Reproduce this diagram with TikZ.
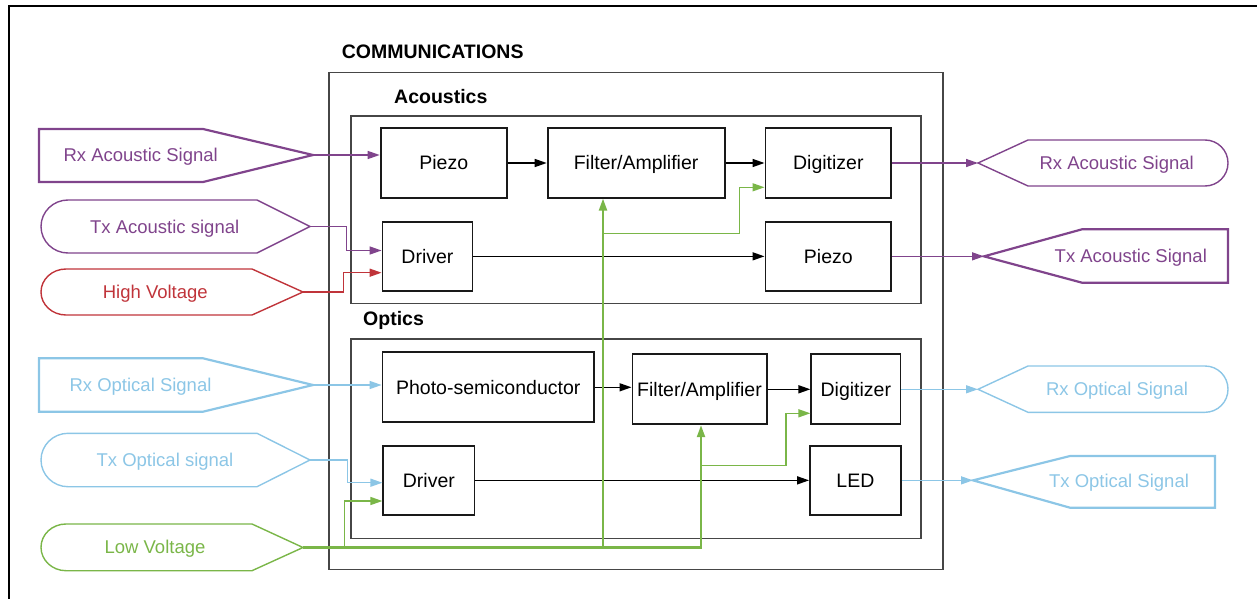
\documentclass[tikz,border=0pt]{standalone}
\usepackage{fontspec}
\setmainfont{Liberation Sans}
\usetikzlibrary{arrows.meta,calc}

\definecolor{sigpurple}{RGB}{128,68,140}
\definecolor{sigred}{RGB}{192,52,58}
\definecolor{sigblue}{RGB}{140,198,230}
\definecolor{siggreen}{RGB}{122,182,72}
\definecolor{boxline}{RGB}{25,25,25}
\definecolor{grpline}{RGB}{70,70,70}

\begin{document}
\begin{tikzpicture}[x=1pt,y=-1pt,
  block/.style={font=\fontsize{19.5}{23}\selectfont, text height=17.5pt, text depth=3.6pt,
    draw=boxline, line width=1.8pt, inner sep=0pt, minimum height=69.4pt},
  group/.style={draw=grpline, line width=1.6pt, inner sep=0pt},
  title/.style={font=\bfseries\fontsize{19.5}{23}\selectfont, text height=17.5pt, text depth=3.6pt,
    inner sep=0pt, anchor=west},
  lbl/.style={font=\fontsize{18.5}{22}\selectfont, text height=16.6pt, text depth=3.4pt, inner sep=0pt},
  thickedge/.style={line width=2.2pt, line join=miter},
  thinedge/.style={line width=1.4pt, line join=miter},
  tip/.style={-{Triangle[length=12pt,width=8pt]}},
  wire/.style={line width=1.5pt, tip},
  cwire/.style={line width=1.4pt, tip},
  bus/.style={line width=2.2pt, siggreen},
]
\useasboundingbox (0,0) rectangle (1257,599);

% page frame (top and left edges)
\draw[line width=2.5pt] (9,599) -- (9,6) -- (1257,6);

% ---------- groups ----------
\node[group, minimum width=614pt, minimum height=497pt] (comm) at (635.7,321.1) {};
\node[group, minimum width=570pt, minimum height=187.3pt] (acou) at (636,209.65) {};
\node[group, minimum width=570pt, minimum height=199.3pt] (opti) at (636,438.65) {};
\node[title] (commT) at (341.7,51.7) {COMMUNICATIONS};
\node[title] (acouT) at (394,97) {Acoustics};
\node[title] (optiT) at (363,319) {Optics};

% ---------- blocks ----------
\node[block, minimum width=126.3pt] (piezoA) at (443.75,163) {Piezo};
\node[block, minimum width=177pt]   (filterA) at (636.1,163) {Filter/Amplifier};
\node[block, minimum width=125.9pt] (digA) at (828.35,163) {Digitizer};
\node[block, minimum width=89.9pt]  (drvA) at (427.45,256.35) {Driver};
\node[block, minimum width=125.9pt] (piezoB) at (828.35,256.35) {Piezo};

\node[block, minimum width=211.5pt, minimum height=70pt] (photo) at (488.25,387.3) {Photo-semiconductor};
\node[block, minimum width=134.2pt, minimum height=70pt] (filterO) at (699.5,389.3) {Filter/Amplifier};
\node[block, minimum width=89.1pt, minimum height=70pt]  (digO) at (855.85,389.3) {Digitizer};
\node[block, minimum width=91.1pt]  (drvO) at (428.85,480.35) {Driver};
\node[block, minimum width=90.8pt]  (led) at (855.4,480.35) {LED};

% ---------- input signals (left) ----------
\draw[sigpurple, thickedge] (39,129) -- (203,129) -- (313,155) -- (203,182) -- (39,182) -- cycle;
\coordinate (rxaL) at (313,155);
\node[lbl, text=sigpurple] (rxaLtxt) at (140.7,155) {Rx Acoustic Signal};

\draw[sigpurple, thinedge] (310,226.5) -- (257,200) -- (68,200)
  .. controls (53.1,200) and (41,211.9) .. (41,226.5)
  .. controls (41,241.1) and (53.1,253) .. (68,253) -- (257,253) -- cycle;
\coordinate (txaL) at (310,226.5);
\node[lbl, text=sigpurple] (txaLtxt) at (164.7,226.7) {Tx Acoustic signal};

\draw[sigred, thinedge] (303,292) -- (252,269) -- (66,269)
  .. controls (52.2,269) and (41,279.3) .. (41,292)
  .. controls (41,304.7) and (52.2,315) .. (66,315) -- (252,315) -- cycle;
\coordinate (hvL) at (303,292);
\node[lbl, text=sigred] (hvLtxt) at (155.3,291.7) {High Voltage};

\draw[sigblue, thickedge] (39,358.3) -- (203,358.3) -- (313,385) -- (203,411.7) -- (39,411.7) -- cycle;
\coordinate (rxoL) at (313,385);
\node[lbl, text=sigblue] (rxoLtxt) at (140.5,385) {Rx Optical Signal};

\draw[sigblue, thinedge] (310,460) -- (257,433.3) -- (68,433.3)
  .. controls (53.1,433.3) and (41,445.3) .. (41,460)
  .. controls (41,474.7) and (53.1,486.7) .. (68,486.7) -- (257,486.7) -- cycle;
\coordinate (txoL) at (310,460);
\node[lbl, text=sigblue] (txoLtxt) at (165,460) {Tx Optical signal};

\draw[siggreen, thinedge] (303,547.5) -- (252,524) -- (66,524)
  .. controls (52.2,524) and (41,534.4) .. (41,547.3)
  .. controls (41,560.2) and (52.2,570.7) .. (66,570.7) -- (252,570.7) -- cycle;
\coordinate (lvL) at (303,547.5);
\node[lbl, text=siggreen] (lvLtxt) at (155,547.3) {Low Voltage};

% ---------- output signals (right) ----------
\draw[sigpurple, thinedge] (978,163) -- (1028,140) -- (1205,140)
  .. controls (1217.7,140) and (1228,150.3) .. (1228,163)
  .. controls (1228,175.7) and (1217.7,186) .. (1205,186) -- (1028,186) -- cycle;
\coordinate (rxaR) at (978,163);
\node[lbl, text=sigpurple] (rxaRtxt) at (1116.7,163) {Rx Acoustic Signal};

\draw[sigpurple, thickedge] (984,256.35) -- (1082,229.3) -- (1228,229.3) -- (1228,282.7) -- (1082,282.7) -- cycle;
\coordinate (txaR) at (984,256.35);
\node[lbl, text=sigpurple] (txaRtxt) at (1130.8,256) {Tx Acoustic Signal};

\draw[sigblue, thinedge] (978,389.3) -- (1028,366) -- (1205,366)
  .. controls (1217.7,366) and (1228,376.3) .. (1228,389.2)
  .. controls (1228,402) and (1217.7,412.3) .. (1205,412.3) -- (1028,412.3) -- cycle;
\coordinate (rxoR) at (978,389.3);
\node[lbl, text=sigblue] (rxoRtxt) at (1117,389) {Rx Optical Signal};

\draw[sigblue, thickedge] (973,480.35) -- (1070,456) -- (1215,456) -- (1215,507.7) -- (1070,507.7) -- cycle;
\coordinate (txoR) at (973,480.35);
\node[lbl, text=sigblue] (txoRtxt) at (1119,481) {Tx Optical Signal};

% ---------- acoustic connectors ----------
\draw[cwire, sigpurple] (rxaL) -- (rxaL -| piezoA.west);
\draw[cwire, sigpurple] (txaL) -- ++(36.5,0) |- ([yshift=5.85pt]drvA.west);
\draw[cwire, sigred] (hvL) -- ++(40.5,0) |- ([yshift=-16.35pt]drvA.west);
\draw[wire] (piezoA.east) -- (filterA.west);
\draw[wire] (filterA.east) -- (digA.west);
\draw[wire] (drvA.east) -- (piezoB.west);
\draw[cwire, sigpurple] (digA.east) -- (rxaR);
\draw[cwire, sigpurple] (piezoB.east) -- (txaR);

% ---------- optical connectors ----------
\draw[cwire, sigblue] (rxoL) -- (rxoL -| photo.west);
\draw[cwire, sigblue] (txoL) -- ++(37.7,0) |- ([yshift=-2.35pt]drvO.west);
\draw[wire] (photo.east) -- (photo.east -| filterO.west);
\draw[wire] (filterO.east) -- (digO.west);
\draw[wire] (drvO.east) -- (led.west);
\draw[cwire, sigblue] (digO.east) -- (rxoR);
\draw[cwire, sigblue] (led.east) -- (txoR);

% ---------- low-voltage supply ----------
\coordinate (fAin) at ([xshift=-33.1pt]filterA.south);
\coordinate (fOin) at ([xshift=1.5pt]filterO.south);
\coordinate (jA) at (603,233.3);
\coordinate (jO) at (701,465.7);
\coordinate (jD) at (344.3,547.5);
\draw[bus, tip] (lvL) -| (fOin);
\draw[bus, tip] (lvL -| fAin) -- (fAin);
\draw[cwire, siggreen] (jA) -- ++(136.6,0) |- ([yshift=-24.3pt]digA.west);
\draw[cwire, siggreen] (jO) -- ++(85,0) |- ([yshift=-24pt]digO.west);
\draw[cwire, siggreen] (jD) |- ([yshift=-20.65pt]drvO.west);
\end{tikzpicture}
\end{document}
